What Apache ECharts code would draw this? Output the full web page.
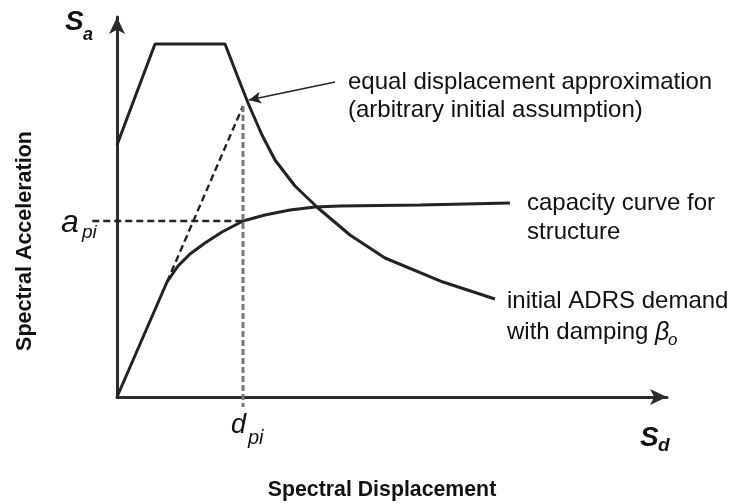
<!DOCTYPE html>
<html>
<head>
<meta charset="utf-8">
<script src="https://cdn.jsdelivr.net/npm/echarts@6/dist/echarts.min.js"></script>
<style>
    html, body { margin: 0; padding: 0; background: #fff; }
    #chart { width: 731px; height: 504px; }
</style>
</head>
<body>
<div id="chart"></div>
<script>
// ADRS demand spectrum (Sd, Sa) - schematic units
var demandSd = [0, 6.91, 19.64, 21.82, 23.82, 26.36, 28.73, 32.36, 36.55, 42.36, 48.73, 59.27, 68.73];
var demandSa = [66.32, 92.89, 92.89, 84.74, 77.37, 68.95, 62.37, 55.53, 49.74, 42.63, 36.58, 30.26, 25.79];

// capacity curve for structure
var capacitySd = [0, 9.09, 11.09, 13.27, 16.0, 19.09, 22.91, 26.91, 31.45, 36.0, 40.55, 55.09, 71.45];
var capacitySa = [0, 30.26, 34.47, 37.63, 40.53, 43.42, 46.32, 47.89, 49.21, 50.0, 50.26, 50.53, 51.05];

// trial performance point (dpi, api)
var dpi = 22.91;
var api = 46.32;

// equal displacement approximation (elastic extension of the initial slope)
var eqDispSd = [9.09, 22.91];
var eqDispSa = [30.26, 76.58];

// guide line ends outside the axes
var apiGuideStart = -4.5;
var dpiGuideEnd = -2.6;

// arrow from the annotation to the demand curve
var arrowFrom = [39.64, 82.89];
var arrowTo = [24.0, 78.16];

var font = 'Liberation Sans, Arial, sans-serif';

function pairs(xs, ys) {
    var out = [];
    for (var i = 0; i < xs.length; i++) {
        out.push([xs[i], ys[i]]);
    }
    return out;
}

function txt(x, y, text, size, extra) {
    var style = {
        x: x, y: y, text: text,
        fontFamily: font, fontSize: size,
        fill: '#111', align: 'left', verticalAlign: 'middle'
    };
    for (var k in extra) style[k] = extra[k];
    return {type: 'text', style: style, silent: true};
}

var chart = echarts.init(document.getElementById('chart'));

var axisLine = {
    show: true,
    symbol: ['none', 'arrow'],
    symbolSize: [12, 17],
    lineStyle: {color: '#2b2b2b', width: 3}
};

var dashed = {color: '#222', width: 2.4, type: [7, 4]};

var option = {
    animation: false,
    backgroundColor: '#fff',
    grid: {left: 117, right: 64, top: 17, bottom: 107},
    xAxis: {
        type: 'value', min: 0, max: 100,
        axisLine: axisLine,
        axisTick: {show: false}, axisLabel: {show: false}, splitLine: {show: false}
    },
    yAxis: {
        type: 'value', min: 0, max: 100,
        axisLine: axisLine,
        axisTick: {show: false}, axisLabel: {show: false}, splitLine: {show: false}
    },
    series: [
        {
            name: 'demand',
            type: 'line',
            data: pairs(demandSd, demandSa),
            showSymbol: false,
            lineStyle: {color: '#222', width: 3},
            markLine: {
                silent: true,
                symbol: ['none', 'arrow'],
                symbolSize: [9, 12],
                label: {show: false},
                lineStyle: {color: '#222', width: 1.5, type: 'solid'},
                data: [[{coord: arrowFrom}, {coord: arrowTo}]]
            }
        },
        {
            name: 'capacity',
            type: 'line',
            data: pairs(capacitySd, capacitySa),
            showSymbol: false,
            lineStyle: {color: '#222', width: 3}
        },
        {
            name: 'equal displacement',
            type: 'line',
            data: pairs(eqDispSd, eqDispSa),
            showSymbol: false,
            lineStyle: dashed
        },
        {
            name: 'dpi',
            type: 'line',
            clip: false,
            data: [[dpi, eqDispSa[1]], [dpi, dpiGuideEnd]],
            showSymbol: false,
            lineStyle: {color: '#777', width: 3, type: [6, 3]}
        }
    ]
};

chart.setOption(option);

// a_pi guide runs left past the y axis, so place it through the chart's own scale
var p0 = chart.convertToPixel({gridIndex: 0}, [apiGuideStart, api]);
var p1 = chart.convertToPixel({gridIndex: 0}, [dpi, api]);

chart.setOption({
    graphic: [
        {
            type: 'line', silent: true, z: 1,
            shape: {x1: p0[0], y1: p0[1], x2: p1[0], y2: p1[1]},
            style: {stroke: dashed.color, lineWidth: dashed.width, lineDash: dashed.type}
        },
        txt(65, 22, 'S', 28, {fontStyle: 'italic', fontWeight: 'bold'}),
        txt(83, 35, 'a', 18, {fontStyle: 'italic', fontWeight: 'bold'}),
        txt(61, 223, 'a', 32, {fontStyle: 'italic'}),
        txt(82, 233, 'pi', 19, {fontStyle: 'italic'}),
        txt(231, 425, 'd', 27, {fontStyle: 'italic'}),
        txt(248, 438, 'pi', 20, {fontStyle: 'italic'}),
        txt(640, 438, 'S', 28, {fontStyle: 'italic', fontWeight: 'bold'}),
        txt(658, 446, 'd', 19, {fontStyle: 'italic', fontWeight: 'bold'}),
        txt(348, 82, 'equal displacement approximation', 24),
        txt(348, 110, '(arbitrary initial assumption)', 24),
        txt(527, 203, 'capacity curve for', 24),
        txt(527, 232, 'structure', 24),
        txt(507, 301, 'initial ADRS demand', 24),
        txt(507, 332, 'with damping', 24),
        txt(655, 333, 'β', 25, {fontStyle: 'italic'}),
        txt(668, 340, 'o', 17, {fontStyle: 'italic'}),
        txt(382, 490, 'Spectral Displacement', 21.3, {fontWeight: 'bold', align: 'center'}),
        {
            type: 'text', x: 25, y: 241, rotation: Math.PI / 2, silent: true,
            style: {
                text: 'Spectral Acceleration', fontFamily: font, fontSize: 21.5,
                fontWeight: 'bold', fill: '#111', align: 'center', verticalAlign: 'middle'
            }
        }
    ]
});
</script>
</body>
</html>
